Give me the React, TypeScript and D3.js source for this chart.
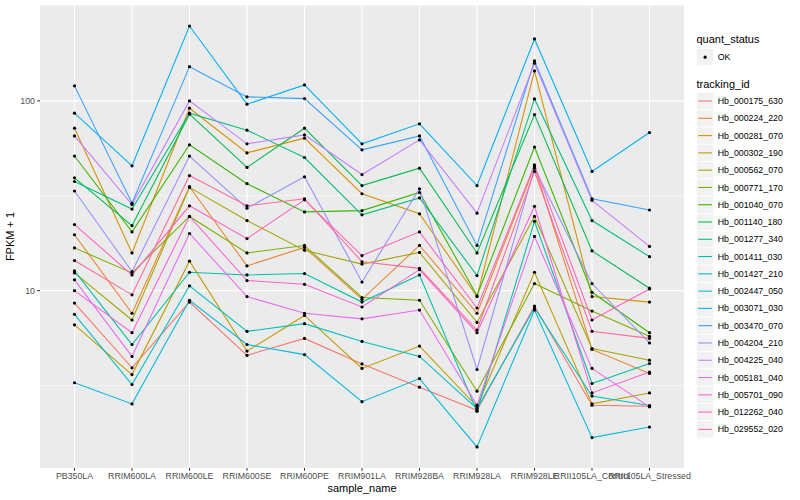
import React, { useEffect, useRef } from 'react';
import * as d3 from 'd3';

// sample order on the x axis
const samples = [
  'PB350LA', 'RRIM600LA', 'RRIM600LE', 'RRIM600SE', 'RRIM600PE', 'RRIM901LA',
  'RRIM928BA', 'RRIM928LA', 'RRIM928LE', 'RRII105LA_Control', 'RRII105LA_Stressed'
];

const trackingIds = [
  'Hb_000175_630', 'Hb_000224_220', 'Hb_000281_070', 'Hb_000302_190', 'Hb_000562_070',
  'Hb_000771_170', 'Hb_001040_070', 'Hb_001140_180', 'Hb_001277_340', 'Hb_001411_030',
  'Hb_001427_210', 'Hb_002447_050', 'Hb_003071_030', 'Hb_003470_070', 'Hb_004204_210',
  'Hb_004225_040', 'Hb_005181_040', 'Hb_005701_090', 'Hb_012262_040', 'Hb_029552_020'
];

// FPKM + 1, one value per sample
const hb000175_630 = [8.6, 3.92, 8.7, 4.56, 5.6, 4.11, 3.1, 2.34, 8.3, 2.49, 2.46];
const hb000224_220 = [19.7, 7.6, 35.3, 13.5, 16.9, 9.0, 17.3, 7.6, 45.1, 4.9, 3.66];
const hb000281_070 = [71.8, 15.8, 91.5, 53.2, 63.6, 32.4, 25.4, 9.3, 143.8, 9.3, 8.7];
const hb000302_190 = [6.6, 3.61, 14.3, 4.8, 7.4, 3.89, 5.1, 2.45, 12.5, 2.53, 2.89];
const hb000562_070 = [12.4, 7.0, 35.0, 23.4, 16.3, 13.8, 15.9, 6.8, 24.6, 4.95, 4.3];
const hb000771_170 = [16.8, 12.4, 24.6, 15.8, 17.3, 9.2, 8.9, 2.95, 10.9, 7.8, 5.75];
const hb001040_070 = [51.2, 20.4, 58.7, 36.6, 26.0, 26.4, 32.9, 9.4, 57.1, 9.8, 6.0];
const hb001140_180 = [39.3, 22.0, 85.1, 44.6, 71.8, 35.8, 44.2, 15.8, 84.7, 16.2, 10.3];
const hb001277_340 = [37.6, 26.9, 86.1, 70.1, 50.3, 25.1, 30.8, 12.0, 102.4, 23.4, 15.1];
const hb001411_030 = [12.7, 5.2, 12.5, 12.1, 12.3, 8.7, 12.1, 2.31, 23.2, 3.24, 4.13];
const hb001427_210 = [7.5, 3.2, 10.6, 6.1, 6.7, 5.4, 4.5, 2.39, 8.1, 2.78, 2.48];
const hb002447_050 = [3.27, 2.53, 8.9, 5.2, 4.6, 2.6, 3.44, 1.5, 7.9, 1.68, 1.91];
const hb003071_030 = [86.1, 45.5, 248, 96.1, 121.4, 59.4, 75.7, 35.8, 212, 42.5, 68.1];
const hb003470_070 = [120, 28.9, 151.5, 105, 102.8, 55.2, 65.4, 17.3, 162.4, 30.5, 26.6];
const hb004204_210 = [33.5, 12.6, 51.2, 27.2, 39.8, 11.1, 34.4, 3.84, 44.2, 10.9, 5.3];
const hb004225_040 = [65.4, 28.4, 100, 59.4, 66.2, 40.9, 62.3, 25.6, 157.9, 29.9, 17.1];
const hb005181_040 = [11.4, 4.5, 20.0, 9.3, 7.6, 7.1, 7.9, 2.49, 19.3, 3.89, 2.44];
const hb005701_090 = [10.0, 6.0, 24.6, 11.3, 10.8, 8.2, 12.9, 6.0, 27.8, 2.89, 3.72];
const hb012262_040 = [22.3, 12.1, 28.0, 18.8, 30.1, 15.3, 20.4, 8.1, 46.0, 7.0, 10.2];
const hb029552_020 = [14.4, 9.5, 40.4, 28.0, 30.5, 14.2, 13.1, 6.2, 42.5, 6.1, 5.6];

const fpkmSeries = [
  hb000175_630, hb000224_220, hb000281_070, hb000302_190, hb000562_070,
  hb000771_170, hb001040_070, hb001140_180, hb001277_340, hb001411_030,
  hb001427_210, hb002447_050, hb003071_030, hb003470_070, hb004204_210,
  hb004225_040, hb005181_040, hb005701_090, hb012262_040, hb029552_020
];

const quantStatus = ['OK'];

// ggplot2 default hue palette for 20 levels
const huePalette = [
  '#F8766D', '#EA8331', '#D89000', '#C09B00', '#A3A500', '#7CAE00', '#39B600',
  '#00BB4E', '#00BF7D', '#00C1A3', '#00BFC4', '#00BAE0', '#00B0F6', '#35A2FF',
  '#9590FF', '#C77CFF', '#E76BF3', '#FA62DB', '#FF62BC', '#FF6A98'
];

const App: React.FC = () => {
  const svgRef = useRef<SVGSVGElement>(null);

  useEffect(() => {
    if (!svgRef.current) return;
    const width = 800;
    const height = 500;
    const panel = { left: 40, right: 684, top: 5, bottom: 468 };
    const font = '"Liberation Sans", Arial, Helvetica, sans-serif';

    const svg = d3.select(svgRef.current);
    svg.selectAll('*').remove();
    svg.attr('width', width).attr('height', height).style('font-family', font);

    svg.append('rect').attr('width', width).attr('height', height).attr('fill', '#ffffff');

    // ---- scales
    const x = d3.scalePoint<string>().domain(samples).range([panel.left, panel.right]).padding(0.6);

    const allVals = fpkmSeries.flat();
    const lo = Math.log10(d3.min(allVals) as number);
    const hi = Math.log10(d3.max(allVals) as number);
    const pad = (hi - lo) * 0.05;
    const y = d3.scaleLog()
      .domain([Math.pow(10, lo - pad), Math.pow(10, hi + pad)])
      .range([panel.bottom, panel.top]);

    const color = d3.scaleOrdinal<string, string>().domain(trackingIds).range(huePalette);

    const majors: number[] = [];
    const minors: number[] = [];
    for (let k = Math.floor(lo - pad) - 1; k <= Math.ceil(hi + pad) + 1; k++) {
      if (k >= lo - pad && k <= hi + pad) majors.push(Math.pow(10, k));
      if (k + 0.5 >= lo - pad && k + 0.5 <= hi + pad) minors.push(Math.pow(10, k + 0.5));
    }

    // ---- panel
    svg.append('rect')
      .attr('x', panel.left).attr('y', panel.top)
      .attr('width', panel.right - panel.left).attr('height', panel.bottom - panel.top)
      .attr('fill', '#EBEBEB');

    const grid = svg.append('g').attr('stroke', '#ffffff').attr('fill', 'none');
    grid.selectAll('line.minor').data(minors).join('line')
      .attr('class', 'minor')
      .attr('x1', panel.left).attr('x2', panel.right)
      .attr('y1', d => y(d)).attr('y2', d => y(d))
      .attr('stroke-width', 0.53);
    grid.selectAll('line.majory').data(majors).join('line')
      .attr('class', 'majory')
      .attr('x1', panel.left).attr('x2', panel.right)
      .attr('y1', d => y(d)).attr('y2', d => y(d))
      .attr('stroke-width', 1.07);
    grid.selectAll('line.majorx').data(samples).join('line')
      .attr('class', 'majorx')
      .attr('x1', d => x(d)!).attr('x2', d => x(d)!)
      .attr('y1', panel.top).attr('y2', panel.bottom)
      .attr('stroke-width', 1.07);

    // ---- lines
    const line = d3.line<number>()
      .x((_, i) => x(samples[i])!)
      .y(d => y(d));

    svg.append('g').attr('fill', 'none')
      .selectAll('path')
      .data(fpkmSeries)
      .join('path')
      .attr('d', d => line(d))
      .attr('stroke', (_, i) => color(trackingIds[i]))
      .attr('stroke-width', 1.07);

    // ---- points
    const pts = fpkmSeries.flatMap(s => s.map((v, i) => ({ s: samples[i], v })));
    svg.append('g')
      .selectAll('circle')
      .data(pts)
      .join('circle')
      .attr('cx', d => x(d.s)!)
      .attr('cy', d => y(d.v))
      .attr('r', 1.6)
      .attr('fill', '#000000');

    // ---- axes
    const axisG = svg.append('g');
    axisG.selectAll('line.xt').data(samples).join('line')
      .attr('class', 'xt')
      .attr('x1', d => x(d)!).attr('x2', d => x(d)!)
      .attr('y1', panel.bottom).attr('y2', panel.bottom + 2.75)
      .attr('stroke', '#333333').attr('stroke-width', 1.07);
    axisG.selectAll('text.xl').data(samples).join('text')
      .attr('class', 'xl')
      .attr('x', d => x(d)!).attr('y', 479)
      .attr('text-anchor', 'middle')
      .attr('font-size', 8.8).attr('fill', '#4D4D4D')
      .text(d => d);

    axisG.selectAll('line.yt').data(majors).join('line')
      .attr('class', 'yt')
      .attr('x1', panel.left - 2.75).attr('x2', panel.left)
      .attr('y1', d => y(d)).attr('y2', d => y(d))
      .attr('stroke', '#333333').attr('stroke-width', 1.07);
    axisG.selectAll('text.yl').data(majors).join('text')
      .attr('class', 'yl')
      .attr('x', panel.left - 5).attr('y', d => y(d))
      .attr('dy', '0.35em')
      .attr('text-anchor', 'end')
      .attr('font-size', 8.8).attr('fill', '#4D4D4D')
      .text(d => d3.format('d')(d));

    svg.append('text')
      .attr('x', (panel.left + panel.right) / 2).attr('y', 492)
      .attr('text-anchor', 'middle').attr('font-size', 11).attr('fill', '#000')
      .text('sample_name');

    svg.append('text')
      .attr('transform', `translate(14,${(panel.top + panel.bottom) / 2}) rotate(-90)`)
      .attr('text-anchor', 'middle').attr('font-size', 11).attr('fill', '#000')
      .text('FPKM + 1');

    // ---- legends
    const lx = 696.5;
    const key = 17.28;
    const leg = svg.append('g');

    leg.append('text').attr('x', lx).attr('y', 43).attr('font-size', 11).text('quant_status');
    const q = leg.selectAll('g.q').data(quantStatus).join('g').attr('class', 'q')
      .attr('transform', (_, i) => `translate(${lx},${48.5 + i * key})`);
    q.append('rect').attr('width', key).attr('height', key)
      .attr('fill', '#F2F2F2').attr('stroke', '#ffffff').attr('stroke-width', 0.8);
    q.append('circle').attr('cx', key / 2).attr('cy', key / 2).attr('r', 1.6).attr('fill', '#000');
    q.append('text').attr('x', key + 4).attr('y', key / 2).attr('dy', '0.35em')
      .attr('font-size', 8.8).attr('fill', '#000').text(d => d);

    leg.append('text').attr('x', lx).attr('y', 88).attr('font-size', 11).text('tracking_id');
    const t = leg.selectAll('g.t').data(trackingIds).join('g').attr('class', 't')
      .attr('transform', (_, i) => `translate(${lx},${92.4 + i * key})`);
    t.append('rect').attr('width', key).attr('height', key)
      .attr('fill', '#F2F2F2').attr('stroke', '#ffffff').attr('stroke-width', 0.8);
    t.append('line')
      .attr('x1', key * 0.1).attr('x2', key * 0.9)
      .attr('y1', key / 2).attr('y2', key / 2)
      .attr('stroke', d => color(d)).attr('stroke-width', 1.07);
    t.append('text').attr('x', key + 4).attr('y', key / 2).attr('dy', '0.35em')
      .attr('font-size', 8.8).attr('fill', '#000').text(d => d);
  }, []);

  return (
    <svg
      ref={svgRef}
      style={{ position: 'absolute', left: 0, top: 0, display: 'block', background: '#ffffff' }}
    />
  );
};

export default App;
